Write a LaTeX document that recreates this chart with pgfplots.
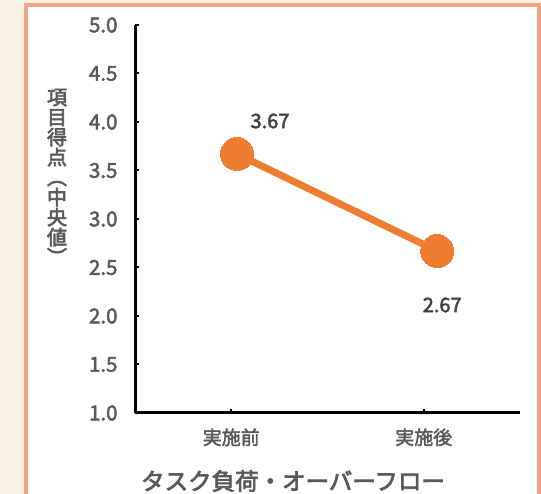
\documentclass[border=0pt]{standalone}
\usepackage{pgfplots}
\pgfplotsset{compat=1.18}
\usepackage{fontspec}
\setmainfont{Noto Sans CJK JP}
\newfontfamily\medfont[FakeBold=2.2]{Noto Sans CJK JP}
\newfontfamily\semifont[FakeBold=3]{Noto Sans CJK JP}
\definecolor{bgbeige}{HTML}{FAF0E4}
\definecolor{bordercol}{HTML}{F0A584}
\definecolor{lineorange}{HTML}{ED7D31}
\definecolor{txtgray}{HTML}{595959}
\definecolor{lblgray}{HTML}{404040}
\begin{document}
\begin{tikzpicture}[x=1bp,y=1bp]
\useasboundingbox (0,0) rectangle (541,494);
\clip (0,0) rectangle (541,494);
\fill[bgbeige] (0,0) rectangle (541,494);
\filldraw[fill=white, draw=bordercol, line width=4bp] (25.5,-20) rectangle (538.5,488.5);
\begin{axis}[
  at={(135bp,81bp)}, anchor=south west,
  scale only axis, width=385bp, height=388bp,
  xmin=0, xmax=2, ymin=1, ymax=5,
  axis x line=bottom, axis y line=left,
  axis line style={-, black, line width=3bp},
  xtick={0.5,1.5}, xticklabels={実施前,実施後},
  ytick={1,1.5,...,5},
  yticklabel={\pgfmathprintnumber[fixed,fixed zerofill,precision=1]{\tick}},
  /pgf/number format/assume math mode=true,
  tick align=inside, major tick length=4bp,
  tick style={black, line width=2bp},
  yticklabel style={font=\medfont\fontsize{20.5bp}{22bp}\selectfont, text=txtgray, xshift=-14bp},
  xticklabel style={font=\medfont\fontsize{19bp}{22bp}\selectfont, text=txtgray, yshift=-12bp},
  clip=false,
]
\addplot[color=lineorange, line width=7bp, mark=*, mark size=16.5bp,
  mark options={fill=lineorange, draw=lineorange, line width=0pt}]
  coordinates {(0.53,3.67) (1.57,2.67)};
\node[text=lblgray, font=\medfont\fontsize{20bp}{22bp}\selectfont] at (axis cs:0.53,3.67) [xshift=33bp, yshift=33bp] {3.67};
\node[text=lblgray, font=\medfont\fontsize{20bp}{22bp}\selectfont] at (axis cs:1.57,2.67) [xshift=5bp, yshift=-54bp] {2.67};
\end{axis}
\node[text=txtgray, font=\semifont\fontsize{23.5bp}{26bp}\selectfont] at (293,13) {タスク負荷・オーバーフロー};
\node[text=txtgray, font=\semifont\fontsize{20bp}{20bp}\selectfont, align=center, inner sep=0pt] at (57,316)
 {項\\目\\得\\点\\\rotatebox[origin=c]{-90}{（}\\中\\央\\値\\\rotatebox[origin=c]{-90}{）}};
\end{tikzpicture}
\end{document}
